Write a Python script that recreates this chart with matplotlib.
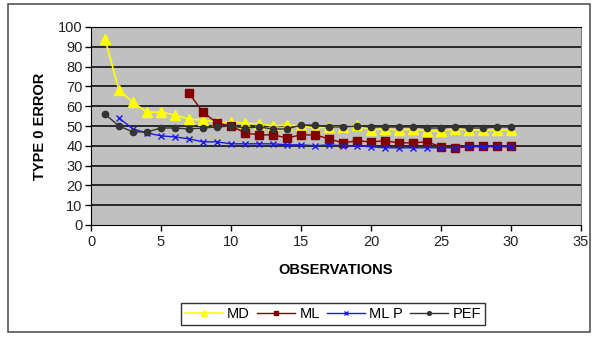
import matplotlib.pyplot as plt
import matplotlib.patches as mpatches
import numpy as np

plt.rcParams['font.family'] = ['Liberation Sans', 'DejaVu Sans']

obs = np.arange(1, 31)

md = [94, 68, 62, 57, 57, 55.5, 53.5, 53, 52, 52, 51.5, 51, 50, 50.5, 50, 49, 49.5, 49.5, 50.5, 48,
      48.5, 48, 48.5, 47.5, 47.5, 48.5, 48, 48, 48, 48]
ml = [None, None, None, None, None, None, 66.5, 57, 51.5, 50, 46.5, 45.5, 45.5, 44, 45.5, 45.5, 43.5,
      41.5, 42.5, 42, 42.5, 41.5, 41.5, 42, 39.5, 39, 40, 40, 40, 40]
ml_p = [None, 54, 48.5, 46.5, 45, 44.5, 43.5, 42, 42, 41, 41, 41, 41, 40.5, 40.5, 40, 40.5, 40, 40, 39.5,
        39, 39, 39, 39, 39, 39, 39.5, 39.5, 39.5, 39.5]
pef = [56, 50, 47, 47, 49, 49, 48.5, 49, 49.5, 50, 49, 49.5, 48.5, 48.5, 50.5, 50.5, 49.5, 49.5, 50,
       49.5, 49.5, 49.5, 49.5, 49, 49, 49.5, 49, 49, 49.5, 49.5]


def as_array(vals):
    return np.array([np.nan if v is None else v for v in vals], dtype=float)


fig = plt.figure(figsize=(5.94, 3.37), dpi=100)
ax = fig.add_axes([91 / 594, 1 - 225 / 337, 490 / 594, 198 / 337])
ax.set_facecolor('#C0C0C0')

# outer chart border
fig.patches.append(mpatches.Rectangle((8 / 594, 1 - 332 / 337), 582 / 594, 328 / 337,
                                      transform=fig.transFigure, fill=False,
                                      edgecolor='#555555', linewidth=1.2))

for yv in range(10, 101, 10):
    ax.axhline(yv, color='black', linewidth=1.1, zorder=1)

ax.plot(obs, as_array(md), color='#FFFF00', marker='^', markersize=7, linewidth=1.2,
        label='MD', zorder=3)
ax.plot(obs, as_array(ml), color='#800000', marker='s', markersize=5.5, linewidth=1.0,
        label='ML', zorder=3)
ax.plot(obs, as_array(ml_p), color='#1A1AE6', marker='x', markersize=5, markeredgewidth=1.0,
        linewidth=1.0, label='ML P', zorder=4)
ax.plot(obs, as_array(pef), color='#333333', marker='o', markersize=4.5, linewidth=1.0,
        label='PEF', zorder=5)

ax.set_xlim(0, 35)
ax.set_ylim(0, 100)
ax.set_xticks(np.arange(0, 36, 5))
ax.set_yticks(np.arange(0, 101, 10))
ax.tick_params(labelsize=10.5, length=4, width=1, color='black', labelcolor='#222222', pad=3)
ax.tick_params(axis='y', pad=2)

for side in ['left', 'bottom', 'top']:
    ax.spines[side].set_color('black')
ax.spines['right'].set_color('#808080')

ax.set_xlabel('OBSERVATIONS', fontsize=10.5, fontweight='bold', labelpad=10)
ax.set_ylabel('TYPE 0 ERROR', fontsize=10.5, fontweight='bold', labelpad=8)

leg = fig.legend(loc='center', bbox_to_anchor=(333 / 594, 1 - 314 / 337), ncol=4,
                 frameon=True, fancybox=False, edgecolor='black', fontsize=10.5,
                 handlelength=2.6, handletextpad=0.3, columnspacing=0.5,
                 borderpad=0.25, borderaxespad=0, markerscale=0.6)
leg.get_frame().set_linewidth(1.0)

fig.savefig('out.png', dpi=100)
